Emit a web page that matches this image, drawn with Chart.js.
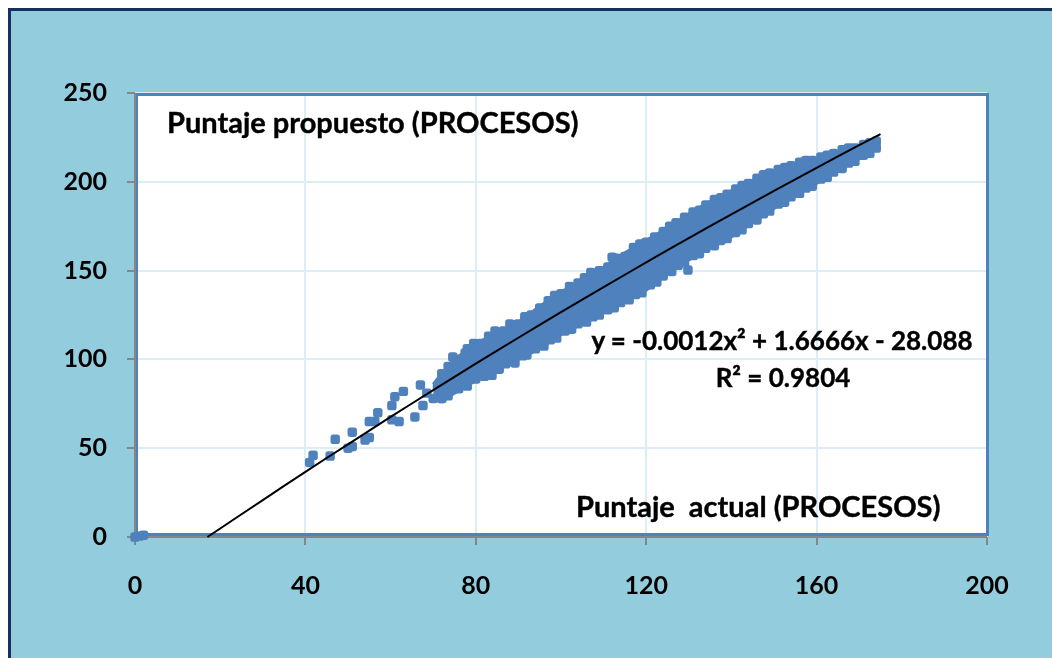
<!DOCTYPE html>
<html>
<head>
<meta charset="utf-8">
<script src="https://cdn.jsdelivr.net/npm/chart.js@4.4.0/dist/chart.umd.min.js"></script>
<style>
  html, body { margin: 0; padding: 0; background: #ffffff; }
  #wrap { position: relative; width: 1052px; height: 658px; overflow: hidden; }
  #frame { position: absolute; left: 8px; top: 8px; width: 1100px; height: 700px;
           background: #93CDDD; border-top: 3px solid #15305F; border-left: 3px solid #15305F; }
  canvas { position: absolute; left: 0; top: 0; }
  .t { position: absolute; font-family: Lato, "Open Sans", sans-serif; font-weight: bold; color: #000;
       line-height: 1; white-space: pre; -webkit-text-stroke: 0.4px #000; }
</style>
</head>
<body>
<div id="wrap">
  <div id="frame"></div>
  <canvas id="c" width="1052" height="658"></canvas>
  <div class="t" id="ytitle" style="left:167px; top:107px; font-size:29px;">Puntaje propuesto (PROCESOS)</div>
  <div class="t" id="xtitle" style="left:576px; top:491px; font-size:29px;">Puntaje  actual (PROCESOS)</div>
  <div class="t" id="eq" style="left:582px; width:400px; text-align:center; top:327px; font-size:26px;">y = -0.0012x² + 1.6666x - 28.088</div>
  <div class="t" id="r2" style="left:583px; width:400px; text-align:center; top:364px; font-size:26px;">R² = 0.9804</div>
</div>
<script>
// ---- data ----
const xTicks = [0, 40, 80, 120, 160, 200];
const yTicks = [0, 50, 100, 150, 200, 250];

// dense cloud of points: upper and lower edge of the band
const bandX     = [70, 72, 75, 80, 85, 90, 95, 100, 105, 110, 115, 120, 125, 130, 135, 140, 145, 150, 155, 160, 165, 170, 175];
const bandUpper = [86, 92, 100, 109, 115, 121, 130, 138, 145, 152, 160, 167, 174, 182, 189, 195, 201, 206, 210, 213, 217, 220, 223];
const bandLower = [80, 77, 81, 88, 94, 100, 106, 114, 120, 126, 132, 139, 148, 156, 163, 169, 177, 185, 192, 199, 206, 213, 219];

// individual points: sparse part and outliers
const ptsX = [0, 1, 2, 41, 41.8, 45.8, 47, 50, 51, 51, 54, 55, 55, 56.3, 57, 60.3, 60.3, 61, 62, 63, 65.7, 67, 67.6, 68.5, 70, 71, 72, 74.6, 77.5, 76.8, 83.8, 89.2, 112, 129.8];
const ptsY = [0, 0.5, 1, 42, 46, 45.6, 55, 50, 51, 59, 54.6, 56, 65, 65, 70, 66, 74, 79, 65, 82, 67.6, 85.6, 74, 81, 78, 84.5, 78, 101.3, 103.6, 85.6, 91, 98, 157.6, 150.3];

// points along the upper edge of the band
const topX = [72, 73.5, 76, 78, 79.5, 81, 83, 84.5, 86.5, 88, 90, 91.5, 93, 95, 97, 98.5, 100, 102, 104, 105.5, 107, 109, 111, 113, 115, 117, 118.5, 120, 122, 124, 125.5, 127, 129, 131, 132.5, 134, 136, 137.5, 139, 141, 142.5, 144, 146, 147.5, 149, 151, 152.5, 154, 156, 157.5, 159, 161, 162.5, 164, 166, 167.5, 169, 171, 172.5, 174];
const topY = [92, 96, 100, 106, 109, 109, 113, 116, 116, 120, 120, 124, 125, 129, 133, 136, 137, 141, 143, 146, 149, 150, 152, 157, 158, 163, 165, 166, 169, 172, 175, 177, 180, 183, 184, 187, 190, 191, 193, 196, 198, 199, 202, 204, 205, 207, 208, 209, 211, 212, 212, 214, 215, 216, 218, 219, 219, 221, 222, 223];

// points along the lower edge of the band
const botX = [72, 73.5, 76, 78, 80, 82, 83.5, 85.5, 87, 89, 91, 92, 94, 96, 97.5, 99, 101, 102.5, 104, 106, 107.5, 109, 111, 112.5, 114, 116, 117.5, 119, 121, 122.5, 124, 126, 127.5, 129, 131, 132.5, 134, 136, 137.5, 139, 141, 142.5, 144, 146, 147.5, 149, 151, 152.5, 154, 156, 157.5, 159, 161, 162.5, 164, 166, 167.5, 169, 171, 172.5, 174];
const botY = [78, 79.5, 83.5, 85, 89, 90.5, 93, 94.5, 97.5, 98.5, 102, 102.5, 106, 107.5, 111, 112, 116, 117, 120, 121, 124, 125, 128, 129, 132, 133.5, 136.5, 137.5, 142, 143.5, 147, 149.5, 153, 154.5, 158.5, 159.5, 162.5, 164, 167, 168, 171.5, 173, 176.5, 178.5, 182, 183.5, 187.5, 188.5, 191.5, 193.5, 196.5, 197.5, 201.5, 202.5, 205.5, 207.5, 210.5, 211.5, 215, 216, 219];

// polynomial trend line, sampled
const trendX = [17, 20, 30, 40, 50, 60, 70, 80, 90, 100, 110, 120, 130, 140, 150, 160, 170, 175];
const trendY = [0, 4.8, 20.8, 36.7, 52.2, 67.6, 82.7, 97.6, 112.2, 126.6, 140.7, 154.6, 168.3, 181.7, 194.9, 207.9, 220.6, 226.8];

const BLUE = '#4F81BD';
const GRID = '#DCEEF4';
const AXIS = '#868686';

const zip = (xs, ys) => xs.map((x, i) => ({ x: x, y: ys[i] }));

const frame = {
  id: 'frame',
  beforeDatasetsDraw(chart) {
    const { ctx, chartArea: a } = chart;
    ctx.save();
    ctx.strokeStyle = BLUE;
    ctx.lineWidth = 3;
    ctx.strokeRect(a.left + 1.5, a.top + 1.5, a.right - a.left - 1, a.bottom - a.top - 4);
    ctx.strokeStyle = AXIS;
    ctx.lineWidth = 2;
    ctx.beginPath();
    ctx.moveTo(a.left, a.top);
    ctx.lineTo(a.left, a.bottom);
    ctx.lineTo(a.right, a.bottom);
    ctx.stroke();
    ctx.restore();
  },
  beforeDraw(chart) {
    const { ctx, chartArea: a } = chart;
    ctx.save();
    ctx.fillStyle = '#ffffff';
    ctx.fillRect(a.left, a.top, a.right - a.left, a.bottom - a.top);
    ctx.restore();
  }
};

const markerStyle = { pointStyle: 'rectRounded', pointRadius: 5.5, backgroundColor: BLUE, borderColor: BLUE, borderWidth: 0, order: 1 };

new Chart(document.getElementById('c'), {
  type: 'scatter',
  data: {
    datasets: [
      { label: 'trend', type: 'line', data: zip(trendX, trendY), borderColor: '#000000', borderWidth: 2,
        pointRadius: 0, fill: false, tension: 0.3, order: 0 },
      Object.assign({ label: 'pts', data: zip(ptsX, ptsY) }, markerStyle),
      Object.assign({ label: 'top', data: zip(topX, topY) }, markerStyle),
      Object.assign({ label: 'bot', data: zip(botX, botY) }, markerStyle),
      { label: 'upper', type: 'line', data: zip(bandX, bandUpper), borderColor: BLUE, borderWidth: 3,
        backgroundColor: BLUE, pointRadius: 0, fill: '+1', order: 2 },
      { label: 'lower', type: 'line', data: zip(bandX, bandLower), borderColor: BLUE, borderWidth: 3,
        backgroundColor: BLUE, pointRadius: 0, fill: false, order: 3 }
    ]
  },
  options: {
    responsive: false,
    animation: false,
    clip: false,
    layout: { padding: { left: 0, top: 93, right: 65, bottom: 0 } },
    plugins: { legend: { display: false }, tooltip: { enabled: false }, filler: { propagate: false } },
    scales: {
      x: {
        type: 'linear', min: 0, max: 200,
        afterBuildTicks: s => { s.ticks = xTicks.map(v => ({ value: v })); },
        afterFit: s => { s.height = 121; },
        grid: { color: GRID, lineWidth: 2, tickColor: AXIS, tickLength: 8, tickWidth: 2 },
        border: { display: false },
        ticks: { color: '#000', padding: 26, font: { family: 'Lato', weight: 'bold', size: 25 } }
      },
      y: {
        type: 'linear', min: 0, max: 250,
        afterBuildTicks: s => { s.ticks = yTicks.map(v => ({ value: v })); },
        afterFit: s => { s.width = 135; },
        grid: { color: GRID, lineWidth: 2, tickColor: AXIS, tickLength: 8, tickWidth: 2 },
        border: { display: false },
        ticks: { color: '#000', padding: 20, font: { family: 'Lato', weight: 'bold', size: 25 } }
      }
    }
  },
  plugins: [frame]
});
</script>
</body>
</html>
